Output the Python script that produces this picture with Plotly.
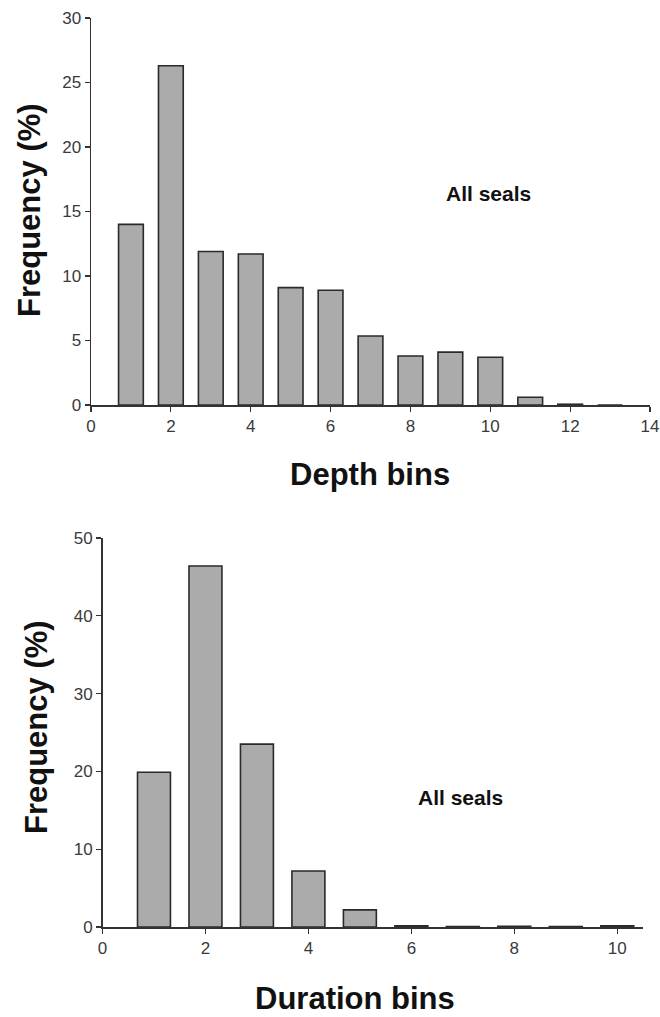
import plotly.graph_objects as go

depth_bins = [1, 2, 3, 4, 5, 6, 7, 8, 9, 10, 11, 12, 13]
depth_freq = [14.0, 26.3, 11.9, 11.7, 9.1, 8.9, 5.35, 3.8, 4.1, 3.7, 0.6, 0.06, 0.0]

duration_bins = [1, 2, 3, 4, 5, 6, 7, 8, 9, 10]
duration_freq = [19.9, 46.4, 23.5, 7.2, 2.2, 0.15, 0.05, 0.08, 0.05, 0.15]

depth_xticks = [0, 2, 4, 6, 8, 10, 12, 14]
depth_yticks = [0, 5, 10, 15, 20, 25, 30]
dur_xticks = [0, 2, 4, 6, 8, 10]
dur_yticks = [0, 10, 20, 30, 40, 50]

W, H = 660, 1017


def fx(px):
    return px / W


def fy(py):
    return 1 - py / H


bar_fill = "#ababab"
bar_line = "#2a2a2a"
axis_col = "#333333"
font_fam = "Liberation Sans, Arial, Helvetica, sans-serif"

fig = go.Figure()
fig.add_trace(go.Bar(x=depth_bins, y=depth_freq, width=0.62,
                     marker=dict(color=bar_fill, line=dict(color=bar_line, width=1.6)),
                     xaxis="x", yaxis="y", showlegend=False))
fig.add_trace(go.Bar(x=duration_bins, y=duration_freq, width=0.64,
                     marker=dict(color=bar_fill, line=dict(color=bar_line, width=1.6)),
                     xaxis="x2", yaxis="y2", showlegend=False))

ax_common = dict(showgrid=False, zeroline=False, showline=True, linecolor=axis_col,
                 linewidth=1.5, ticks="outside", ticklen=5, tickwidth=1.2,
                 tickcolor=axis_col, automargin=False, ticklabeloverflow="allow",
                 tickfont=dict(family=font_fam, size=17, color="#3a3a3a"))

fig.update_layout(
    width=W, height=H,
    margin=dict(l=0, r=0, t=0, b=0, autoexpand=False),
    plot_bgcolor="white", paper_bgcolor="white",
    bargap=0,
    xaxis=dict(domain=[fx(91), fx(650)], range=[0, 14], tickvals=depth_xticks,
               anchor="y", **ax_common),
    yaxis=dict(domain=[fy(405), fy(18)], range=[0, 30], tickvals=depth_yticks,
               anchor="x", **ax_common),
    xaxis2=dict(domain=[fx(102.5), fx(643)], range=[0, 10.5], tickvals=dur_xticks,
                anchor="y2", **ax_common),
    yaxis2=dict(domain=[fy(927), fy(538)], range=[0, 50], tickvals=dur_yticks,
                anchor="x2", **ax_common),
)

title_font = dict(family=font_fam, size=31, color="#111111")
label_font = dict(family=font_fam, size=21, color="#111111")
ann = [
    dict(text="<b>Depth bins</b>", x=fx(370), y=fy(474), font=title_font),
    dict(text="<b>Duration bins</b>", x=fx(355), y=fy(998), font=title_font),
    dict(text="<b>Frequency (%)</b>", x=fx(29), y=fy(210), font=title_font, textangle=-90),
    dict(text="<b>Frequency (%)</b>", x=fx(36), y=fy(727), font=title_font, textangle=-90),
    dict(text="<b>All seals</b>", x=fx(488), y=fy(194), font=label_font),
    dict(text="<b>All seals</b>", x=fx(460), y=fy(797), font=label_font),
]
for a in ann:
    a.update(xref="paper", yref="paper", showarrow=False, xanchor="center", yanchor="middle")
    fig.add_annotation(**a)

fig.write_html(
    "out.html",
    config={"displayModeBar": False, "staticPlot": True},
    post_script="document.body.style.margin='0';document.body.style.overflow='hidden';",
)
